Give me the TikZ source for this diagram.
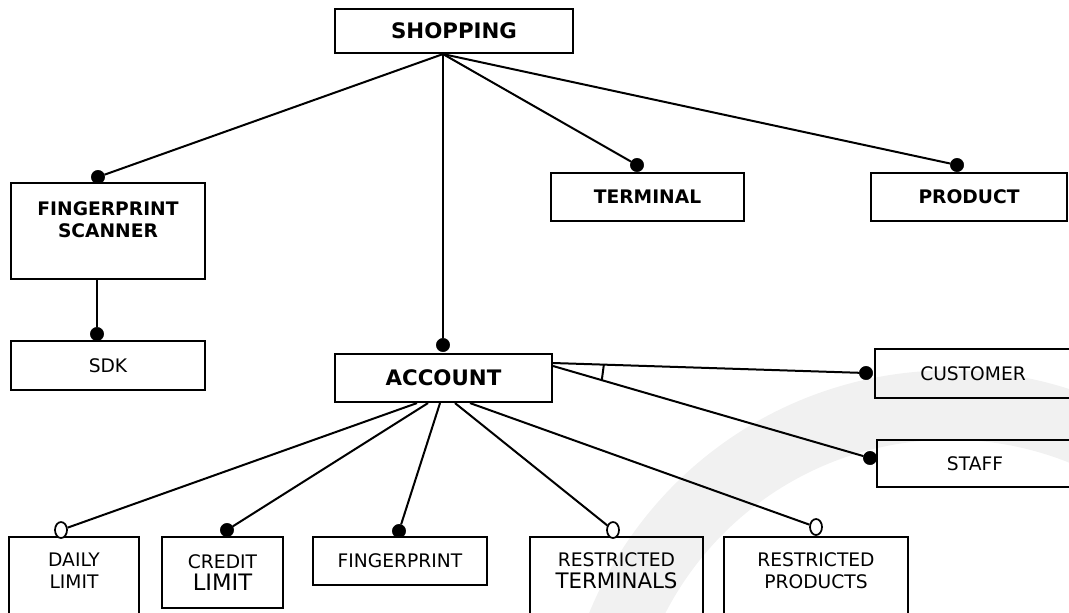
\documentclass[tikz,border=0pt]{standalone}
\usepackage{fontspec}
\setmainfont{DejaVu Sans}
\usetikzlibrary{shapes.geometric}
\definecolor{wmgrey}{HTML}{F1F1F1}
\newcommand{\px}{0.75pt}   % one pixel of the sketch
\newcommand{\fsz}{\fontsize{14}{17}\selectfont}
\newcommand{\fbig}{\fontsize{16}{19}\selectfont}
\newcommand{\Rdot}{10pt}

\begin{document}
\begin{tikzpicture}[x=\px,y=-\px,
  feat/.style={draw,line width=1.6pt,inner sep=0pt,align=center,font=\fsz},
  bfeat/.style={feat,font=\fsz\bfseries},
  mand/.style={circle,fill=black,draw=black,inner sep=0pt,minimum size=\Rdot},
  opt/.style={ellipse,fill=white,draw=black,line width=1.3pt,inner sep=0pt,
    minimum width=9pt,minimum height=12pt},
  link/.style={line width=1.5pt}]
  \useasboundingbox (0,0) rectangle (1069,612);
%
  % watermark
  \draw[wmgrey,line width=52pt] (950,760) ++(185:355) arc (185:300:355);
%
  \node[bfeat,font=\fbig\bfseries,minimum width=238*\px,minimum height=44*\px] (shop) at (454,31) {SHOPPING};
  \node[bfeat,minimum width=194*\px,minimum height=96*\px] (fps) at (108,231) {FINGERPRINT\\SCANNER\\~};
  \node[feat,minimum width=194*\px,minimum height=49*\px] (sdk) at (108,365.5) {SDK};
  \node[bfeat,minimum width=193*\px,minimum height=48*\px] (term) at (647.5,197) {TERMINAL};
  \node[bfeat,minimum width=196*\px,minimum height=48*\px] (prod) at (969,197) {PRODUCT};
  \node[bfeat,font=\fbig\bfseries,minimum width=217*\px,minimum height=48*\px] (acc) at (443.5,378) {ACCOUNT};
  \node[feat,minimum width=196*\px,minimum height=49*\px] (cust) at (973,373.5) {CUSTOMER};
  \node[feat,minimum width=196*\px,minimum height=47*\px] (staff) at (975,463.5) {STAFF};
  \node[feat,minimum width=130*\px,minimum height=90*\px] (daily) at (74,582) {DAILY\\LIMIT\\~};
  \node[feat,minimum width=121*\px,minimum height=71*\px] (credit) at (222.5,572.5) {CREDIT\\{\fontsize{17}{17}\selectfont LIMIT}};
  \node[feat,minimum width=174*\px,minimum height=48*\px] (fp) at (400,561) {FINGERPRINT};
  \node[feat,minimum width=173*\px,minimum height=90*\px] (rterm) at (616.5,582) {RESTRICTED\\{\fontsize{16}{17}\selectfont TERMINALS}\\~};
  \node[feat,minimum width=184*\px,minimum height=90*\px] (rprod) at (816,582) {RESTRICTED\\PRODUCTS\\~};
%
  % dots
  \node[mand] (dfps) at (98,177) {};
  \node[mand] (dterm) at (637,165) {};
  \node[mand] (dprod) at (957,165) {};
  \node[mand] (dacc) at (443,345) {};
  \node[mand] (dsdk) at (97,334) {};
  \node[mand] (dcust) at (866,373) {};
  \node[mand] (dstaff) at (870,458) {};
  \node[opt] (ddaily) at (61,530) {};
  \node[mand] (dcredit) at (227,530) {};
  \node[mand] (dfp) at (399,531) {};
  \node[opt] (drterm) at (613,530) {};
  \node[opt] (drprod) at (816,527) {};
%
  \draw[link] ([shift={(-11,0)}]shop.south) -- (dfps);
  \draw[link] ([shift={(-11,0)}]shop.south) -- (dterm);
  \draw[link] ([shift={(-11,0)}]shop.south) -- (dprod);
  \draw[link] ([shift={(-11,0)}]shop.south) -- (dacc);
  \draw[link] ([shift={(-11,0)}]fps.south) -- (dsdk);
%
  \draw[link] ([shift={(0,-15)}]acc.east) -- (dcust) coordinate[pos=0.166] (gcust);
  \draw[link] ([shift={(0,-12)}]acc.east) -- (dstaff) coordinate[pos=0.157] (gstaff);
  \draw[link] (gcust) -- (gstaff);
%
  \draw[link] ([shift={(-26.5,0)}]acc.south) -- (ddaily);
  \draw[link] ([shift={(-15.5,0)}]acc.south) -- (dcredit);
  \draw[link] ([shift={(-3.5,0)}]acc.south) -- (dfp);
  \draw[link] ([shift={(11.5,0)}]acc.south) -- (drterm);
  \draw[link] ([shift={(26.5,0)}]acc.south) -- (drprod);
\end{tikzpicture}
\end{document}
